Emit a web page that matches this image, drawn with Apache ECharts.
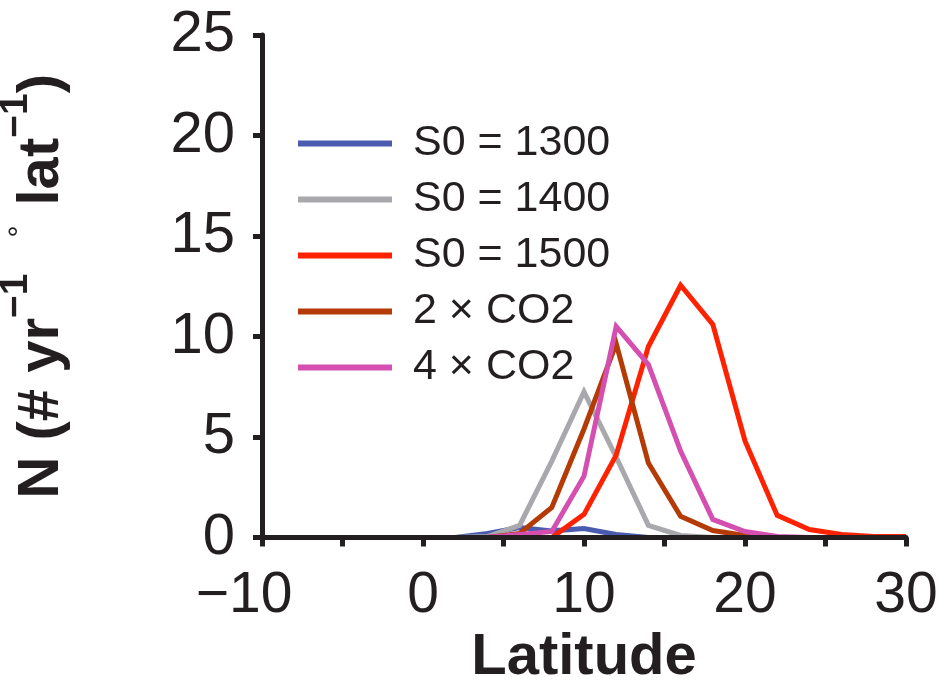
<!DOCTYPE html>
<html>
<head>
<meta charset="utf-8">
<script src="https://cdn.jsdelivr.net/npm/echarts@6/dist/echarts.min.js"></script>
<style>
html,body{margin:0;padding:0;background:#fff;}
#chart{width:942px;height:689px;}
</style>
</head>
<body>
<div id="chart"></div>
<script>
const latitudes = [-10,-8,-6,-4,-2,0,2,4,6,8,10,12,14,16,18,20,22,24,26,28,30];
const s1300 = [0,0,0,0,0,0,0,0.2,0.5,0.33,0.45,0.15,0,0,0,0,0,0,0,0,0];
const s1400 = [0,0,0,0,0,0,0,0.05,0.6,3.8,7.25,4.0,0.6,0.1,0,0,0,0,0,0,0];
const s1500 = [0,0,0,0,0,0,0,0,0,0,1.15,4.1,9.5,12.55,10.6,4.8,1.1,0.4,0.15,0.05,0.05];
const co2x2 = [0,0,0,0,0,0,0,0,0.2,1.5,5.4,9.65,3.7,1.05,0.35,0.1,0,0,0,0,0];
const co2x4 = [0,0,0,0,0,0,0,0,0.15,0.3,3.05,10.5,8.6,4.3,0.9,0.3,0.05,0,0,0,0];
const seriesNames = ['S0 = 1300','S0 = 1400','S0 = 1500','2 × CO2','4 × CO2'];
const seriesColors = ['#4a5bb0','#a9a9ad','#ff2200','#b43a06','#d44fb0'];
const seriesValues = [s1300,s1400,s1500,co2x2,co2x4];
const yTicks = [0,5,10,15,20,25];
const xTicks = [-10,0,10,20,30];

const FONT = 'Liberation Sans';
const INK = '#231f20';
const chart = echarts.init(document.getElementById('chart'), null, {renderer:'canvas'});

const series = seriesNames.map((n,i)=>({
  name:n, type:'line', showSymbol:false, symbol:'none',
  data: latitudes.map((x,j)=>[x, seriesValues[i][j]]),
  lineStyle:{color:seriesColors[i], width:5, join:'miter'},
  itemStyle:{color:seriesColors[i]},
  z: 2+i
}));

chart.setOption({
  animation:false,
  backgroundColor:'#fff',
  textStyle:{fontFamily:FONT},
  grid:{left:262, right:36, top:35, bottom:151.5, containLabel:false, outerBoundsMode:'none'},
  legend:{
    orient:'vertical', left:293, top:117,
    itemWidth:94, itemHeight:6, itemGap:13, icon:'rect',
    data:seriesNames,
    textStyle:{fontFamily:FONT, fontSize:43, color:INK, padding:[0,0,0,16]}
  },
  xAxis:{
    type:'value', min:-10, max:30, interval:5, z:20,
    name:'Latitude', nameLocation:'middle', nameGap:88,
    nameTextStyle:{fontFamily:FONT, fontSize:58, fontWeight:'bold', color:INK},
    axisLine:{show:true, onZero:false, lineStyle:{color:INK, width:5}},
    axisTick:{show:true, inside:false, length:9, lineStyle:{color:INK, width:5}},
    splitLine:{show:false},
    axisLabel:{
      margin:30, fontFamily:FONT, fontSize:57, color:INK,
      formatter:(v)=> xTicks.includes(v) ? (v<0 ? '{n|\u2212'+Math.abs(v)+'}' : String(v)) : '',
      rich:{n:{fontFamily:FONT, fontSize:57, color:INK, padding:[0,36,0,0]}}
    }
  },
  yAxis:{
    type:'value', min:0, max:25, interval:5, z:20,
    name:'{b|N (# yr}{s|\u22121}{g|°}{b|lat}{s|\u22121}{b|)}',
    nameLocation:'middle', nameGap:191, nameRotate:90,
    nameTextStyle:{
      fontFamily:FONT, color:INK,
      rich:{
        b:{fontFamily:FONT, fontSize:58, fontWeight:'bold', color:INK, verticalAlign:'bottom', lineHeight:74},
        s:{fontFamily:FONT, fontSize:39, fontWeight:'bold', color:INK, verticalAlign:'top', lineHeight:74},
        g:{fontFamily:FONT, fontSize:30, color:INK, verticalAlign:'top', lineHeight:74, padding:[9,20,0,36]}
      }
    },
    axisLine:{show:true, onZero:false, lineStyle:{color:INK, width:5}},
    axisTick:{show:true, inside:false, length:9, lineStyle:{color:INK, width:5}},
    splitLine:{show:false},
    axisLabel:{margin:27, fontFamily:FONT, fontSize:58, color:INK,
      formatter:(v)=> yTicks.includes(v) ? String(v) : ''}
  },
  series: series
});
</script>
</body>
</html>
